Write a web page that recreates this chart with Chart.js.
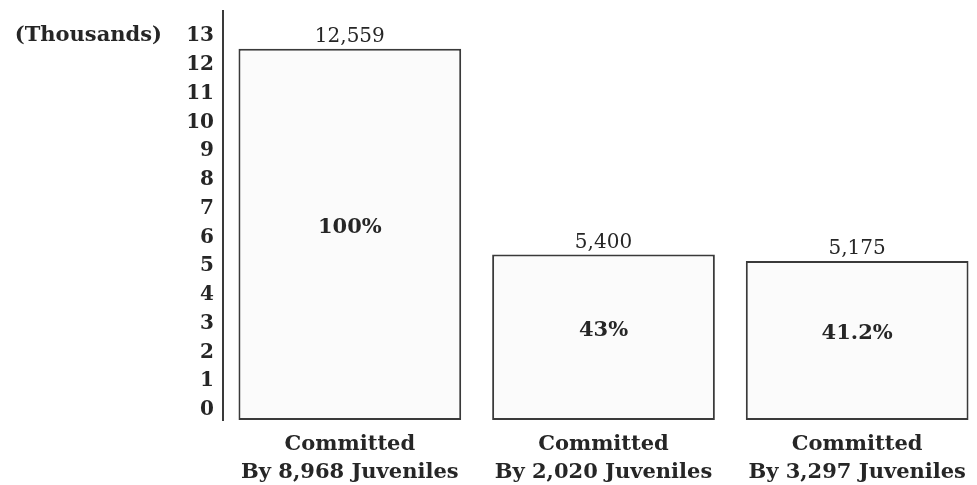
<!DOCTYPE html>
<html>
<head>
<meta charset="utf-8">
<script src="https://cdn.jsdelivr.net/npm/chart.js@4/dist/chart.umd.min.js"></script>
<style>
  html, body { margin: 0; padding: 0; background: #ffffff; overflow: hidden; }
  #wrap { width: 977px; height: 485px; position: relative; overflow: hidden; }
  #c { position: absolute; left: 0; top: -10px; }
</style>
</head>
<body>
<div id="wrap"><canvas id="c" width="984" height="495"></canvas></div>
<script>
// ---- data ----
const categories = [
  ["Committed", "By 8,968 Juveniles"],
  ["Committed", "By 2,020 Juveniles"],
  ["Committed", "By 3,297 Juveniles"]
];
const offenses = [12.559, 5.400, 5.175];          // thousands
const valueLabels = ["12,559", "5,400", "5,175"];
const percentLabels = ["100%", "43%", "41.2%"];
const yTicks = [0, 1, 2, 3, 4, 5, 6, 7, 8, 9, 10, 11, 12, 13];
const yUnitLabel = "(Thousands)";

// ---- styles ----
const SERIF = '"DejaVu Serif", "Liberation Serif", serif';
const INK = '#262626';

const labelPlugin = {
  id: 'barLabels',
  afterDatasetsDraw(chart) {
    const ctx = chart.ctx;
    const meta = chart.getDatasetMeta(0);
    ctx.save();
    ctx.fillStyle = INK;
    ctx.textAlign = 'center';
    meta.data.forEach((bar, i) => {
      ctx.font = 'normal 20px ' + SERIF;
      ctx.textBaseline = 'alphabetic';
      ctx.fillText(valueLabels[i], bar.x, bar.y - 7);
      ctx.font = 'bold 21px ' + SERIF;
      ctx.textBaseline = 'middle';
      ctx.fillText(percentLabels[i], bar.x, (bar.y + bar.base) / 2 - 7);
    });
    // unit label beside top tick
    const ys = chart.scales.y;
    ctx.font = 'bold 21px ' + SERIF;
    ctx.textAlign = 'right';
    ctx.textBaseline = 'middle';
    ctx.fillText(yUnitLabel, 162, ys.getPixelForValue(yTicks[yTicks.length - 1]));
    ctx.restore();
  }
};

new Chart(document.getElementById('c'), {
  type: 'bar',
  data: {
    labels: categories,
    datasets: [{
      data: offenses,
      base: -0.35,
      backgroundColor: '#fbfbfb',
      borderColor: '#3a3a3a',
      borderWidth: 2,
      borderSkipped: false,
      categoryPercentage: 1.0,
      barPercentage: 0.878
    }]
  },
  options: {
    responsive: false,
    animation: false,
    devicePixelRatio: 1,
    layout: { padding: { top: 0, right: 0, bottom: 0, left: 0 } },
    plugins: { legend: { display: false }, tooltip: { enabled: false } },
    scales: {
      x: {
        grid: { display: false, drawTicks: false },
        border: { display: false },
        ticks: {
          color: INK,
          font: { family: SERIF, size: 21, weight: 'bold', lineHeight: 1.35 },
          padding: 10,
          maxRotation: 0,
          autoSkip: false
        },
        afterFit(scale) { scale.height = 65; }
      },
      y: {
        min: -0.35,
        max: 13.87,
        grid: { display: false, drawTicks: false },
        border: { display: true, color: '#3a3a3a', width: 2 },
        afterBuildTicks(scale) { scale.ticks = yTicks.map(v => ({ value: v })); },
        ticks: {
          color: INK,
          font: { family: SERIF, size: 20, weight: 'bold' },
          padding: 9
        },
        afterFit(scale) { scale.width = 223; }
      }
    }
  },
  plugins: [labelPlugin]
});
</script>
</body>
</html>
